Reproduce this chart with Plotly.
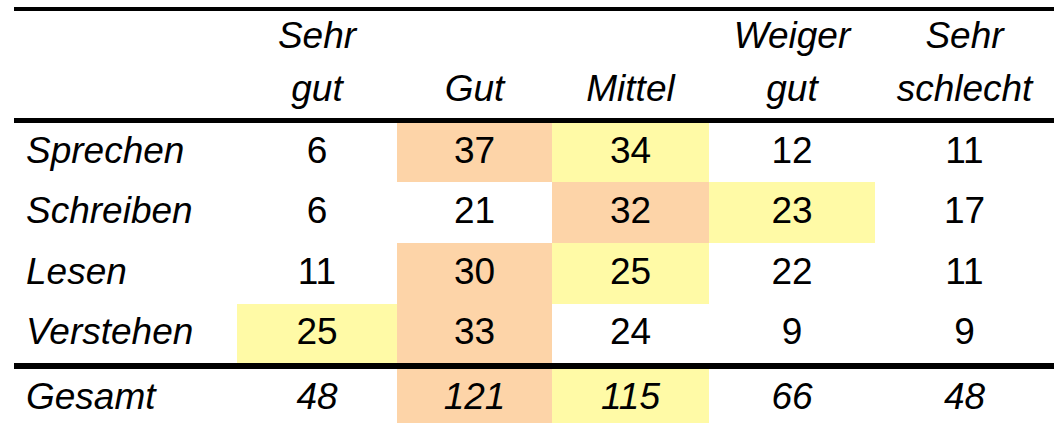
import plotly.graph_objects as go

# ---- data ----
columns = ["Sehr gut", "Gut", "Mittel", "Weiger gut", "Sehr schlecht"]
skills = ["Sprechen", "Schreiben", "Lesen", "Verstehen"]
sprechen = [6, 37, 34, 12, 11]
schreiben = [6, 21, 32, 23, 17]
lesen = [11, 30, 25, 22, 11]
verstehen = [25, 33, 24, 9, 9]
total_label = "Gesamt"
gesamt = [48, 121, 115, 66, 48]

rows = [sprechen, schreiben, lesen, verstehen]

# ---- layout constants (pixel-like axis units) ----
W, H = 1054, 423
col_edges = [237, 397, 552, 709, 875, 1054]
label_left = 14
row_edges = [123, 182, 243, 304, 363, 369, 429]  # 4 skill rows, separator gap, total row
FONT = "Liberation Sans, Arial, sans-serif"
FS = 37
PEACH = "#FDD4A8"
YELLOW = "#FFFAA6"


def rank_codes(vals):
    order = sorted(range(len(vals)), key=lambda i: -vals[i])
    codes = [None] * len(vals)
    codes[order[0]] = 2
    codes[order[1]] = 1
    return codes


z = [rank_codes(r) for r in rows] + [[None] * 5] + [rank_codes(gesamt)]

fig = go.Figure()
fig.add_trace(go.Heatmap(
    x=col_edges, y=row_edges, z=z,
    zmin=1, zmax=2,
    colorscale=[[0, YELLOW], [0.5, YELLOW], [0.5, PEACH], [1, PEACH]],
    showscale=False, hoverinfo="skip", xgap=0, ygap=0,
))

col_centers = [(col_edges[i] + col_edges[i + 1]) / 2 for i in range(5)]
row_centers = [(row_edges[i] + row_edges[i + 1]) / 2 for i in range(len(row_edges) - 1)]
skill_centers = [c + 1.5 for c in row_centers[:4]]
total_center = row_centers[5] + 1

txt = dict(family=FONT, size=FS, color="black")

# body numbers
bx, by, bt = [], [], []
for r, yc in zip(rows, skill_centers):
    for v, xc in zip(r, col_centers):
        bx.append(xc); by.append(yc); bt.append(str(v))
fig.add_trace(go.Scatter(x=bx, y=by, text=bt, mode="text", textposition="middle center",
                         textfont=txt, hoverinfo="skip", cliponaxis=False))
# total row numbers (italic)
fig.add_trace(go.Scatter(x=col_centers, y=[total_center] * 5,
                         text=[f"<i>{v}</i>" for v in gesamt], mode="text",
                         textposition="middle center", textfont=txt,
                         hoverinfo="skip", cliponaxis=False))
# row labels
fig.add_trace(go.Scatter(x=[label_left + 12] * 5, y=skill_centers + [total_center],
                         text=[f"<i>{s}</i>" for s in skills + [total_label]], mode="text",
                         textposition="middle right", textfont=txt,
                         hoverinfo="skip", cliponaxis=False))
# headers: split into two lines
line1 = [c.split(" ")[0] if " " in c else "" for c in columns]
line2 = [c.split(" ")[-1] for c in columns]
fig.add_trace(go.Scatter(x=col_centers, y=[39] * 5, text=[f"<i>{t}</i>" for t in line1],
                         mode="text", textposition="middle center", textfont=txt,
                         hoverinfo="skip", cliponaxis=False))
fig.add_trace(go.Scatter(x=col_centers, y=[92] * 5, text=[f"<i>{t}</i>" for t in line2],
                         mode="text", textposition="middle center", textfont=txt,
                         hoverinfo="skip", cliponaxis=False))

# rules
for yv, wv in [(9, 4), (120.5, 5), (366, 6)]:
    fig.add_shape(type="line", xref="x", yref="y", x0=label_left, x1=W, y0=yv, y1=yv,
                  line=dict(color="black", width=wv), layer="above")

fig.update_layout(
    width=W, height=H, margin=dict(l=0, r=0, t=0, b=0),
    paper_bgcolor="white", plot_bgcolor="white", showlegend=False,
    xaxis=dict(range=[0, W], visible=False, fixedrange=True),
    yaxis=dict(range=[H, 0], visible=False, fixedrange=True),
)
fig.write_html("out.html", config={"displayModeBar": False},
               post_script="document.body.style.margin='0';document.body.style.overflow='hidden';")
